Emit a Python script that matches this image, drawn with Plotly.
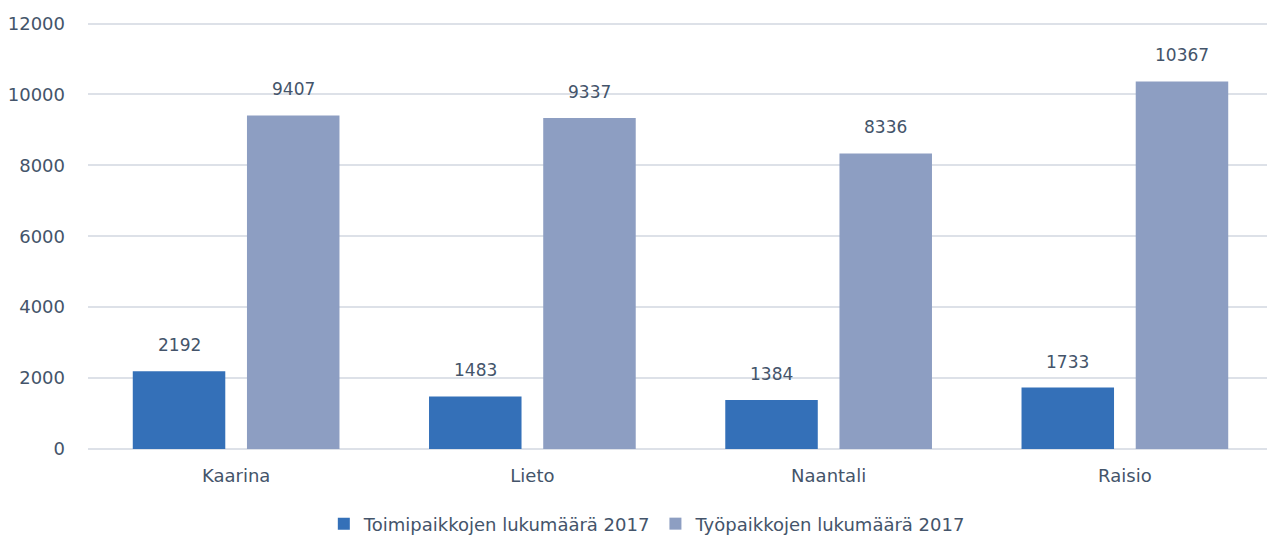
import plotly.graph_objects as go

categories = ["Kaarina", "Lieto", "Naantali", "Raisio"]
toimipaikat = [2192, 1483, 1384, 1733]
tyopaikat = [9407, 9337, 8336, 10367]
series_names = ["Toimipaikkojen lukumäärä 2017", "Työpaikkojen lukumäärä 2017"]
y_ticks = [0, 2000, 4000, 6000, 8000, 10000, 12000]

font_family = "DejaVu Sans, sans-serif"
text_color = "#44546A"
colors = ["#3470B8", "#8D9EC2"]

fig = go.Figure()
for name, vals, col in zip(series_names, [toimipaikat, tyopaikat], colors):
    fig.add_trace(go.Bar(
        x=categories, y=vals, name=name,
        marker=dict(color=col, line=dict(width=0)),
    ))

# value labels above bars
slot_shift = 57
for vals, sign in [(toimipaikat, -1), (tyopaikat, 1)]:
    for c, v in zip(categories, vals):
        fig.add_annotation(
            x=c, y=v, xref="x", yref="y", text=str(v), showarrow=False,
            xshift=sign * slot_shift, yshift=14, yanchor="bottom",
            font=dict(size=17, color=text_color, family=font_family),
        )

fig.update_layout(
    width=1267, height=533,
    margin=dict(l=80, r=2, t=12, b=92, autoexpand=False),
    paper_bgcolor="white", plot_bgcolor="white",
    barmode="group", bargap=0.229, bargroupgap=0.19,
    font=dict(family=font_family, color=text_color, size=18),
    showlegend=True,
    legend=dict(orientation="h", x=0.472, xanchor="center",
                yref="container", y=0.032, yanchor="middle",
                font=dict(size=18, color=text_color, family=font_family),
                itemwidth=30, traceorder="normal"),
)
fig.update_yaxes(
    range=[0, 12100], tickvals=y_ticks, ticktext=[str(t) for t in y_ticks],
    showgrid=True, gridcolor="#DDE1E8", gridwidth=1.5,
    zeroline=True, zerolinecolor="#DDE1E8", zerolinewidth=1.5,
    showline=False, ticks="", ticklabelstandoff=22,
    tickfont=dict(size=18, color=text_color, family=font_family),
)
fig.update_xaxes(
    showline=False, ticks="", showgrid=False, ticklabelstandoff=14,
    tickfont=dict(size=18, color=text_color, family=font_family),
)

fig.write_html("out.html")
